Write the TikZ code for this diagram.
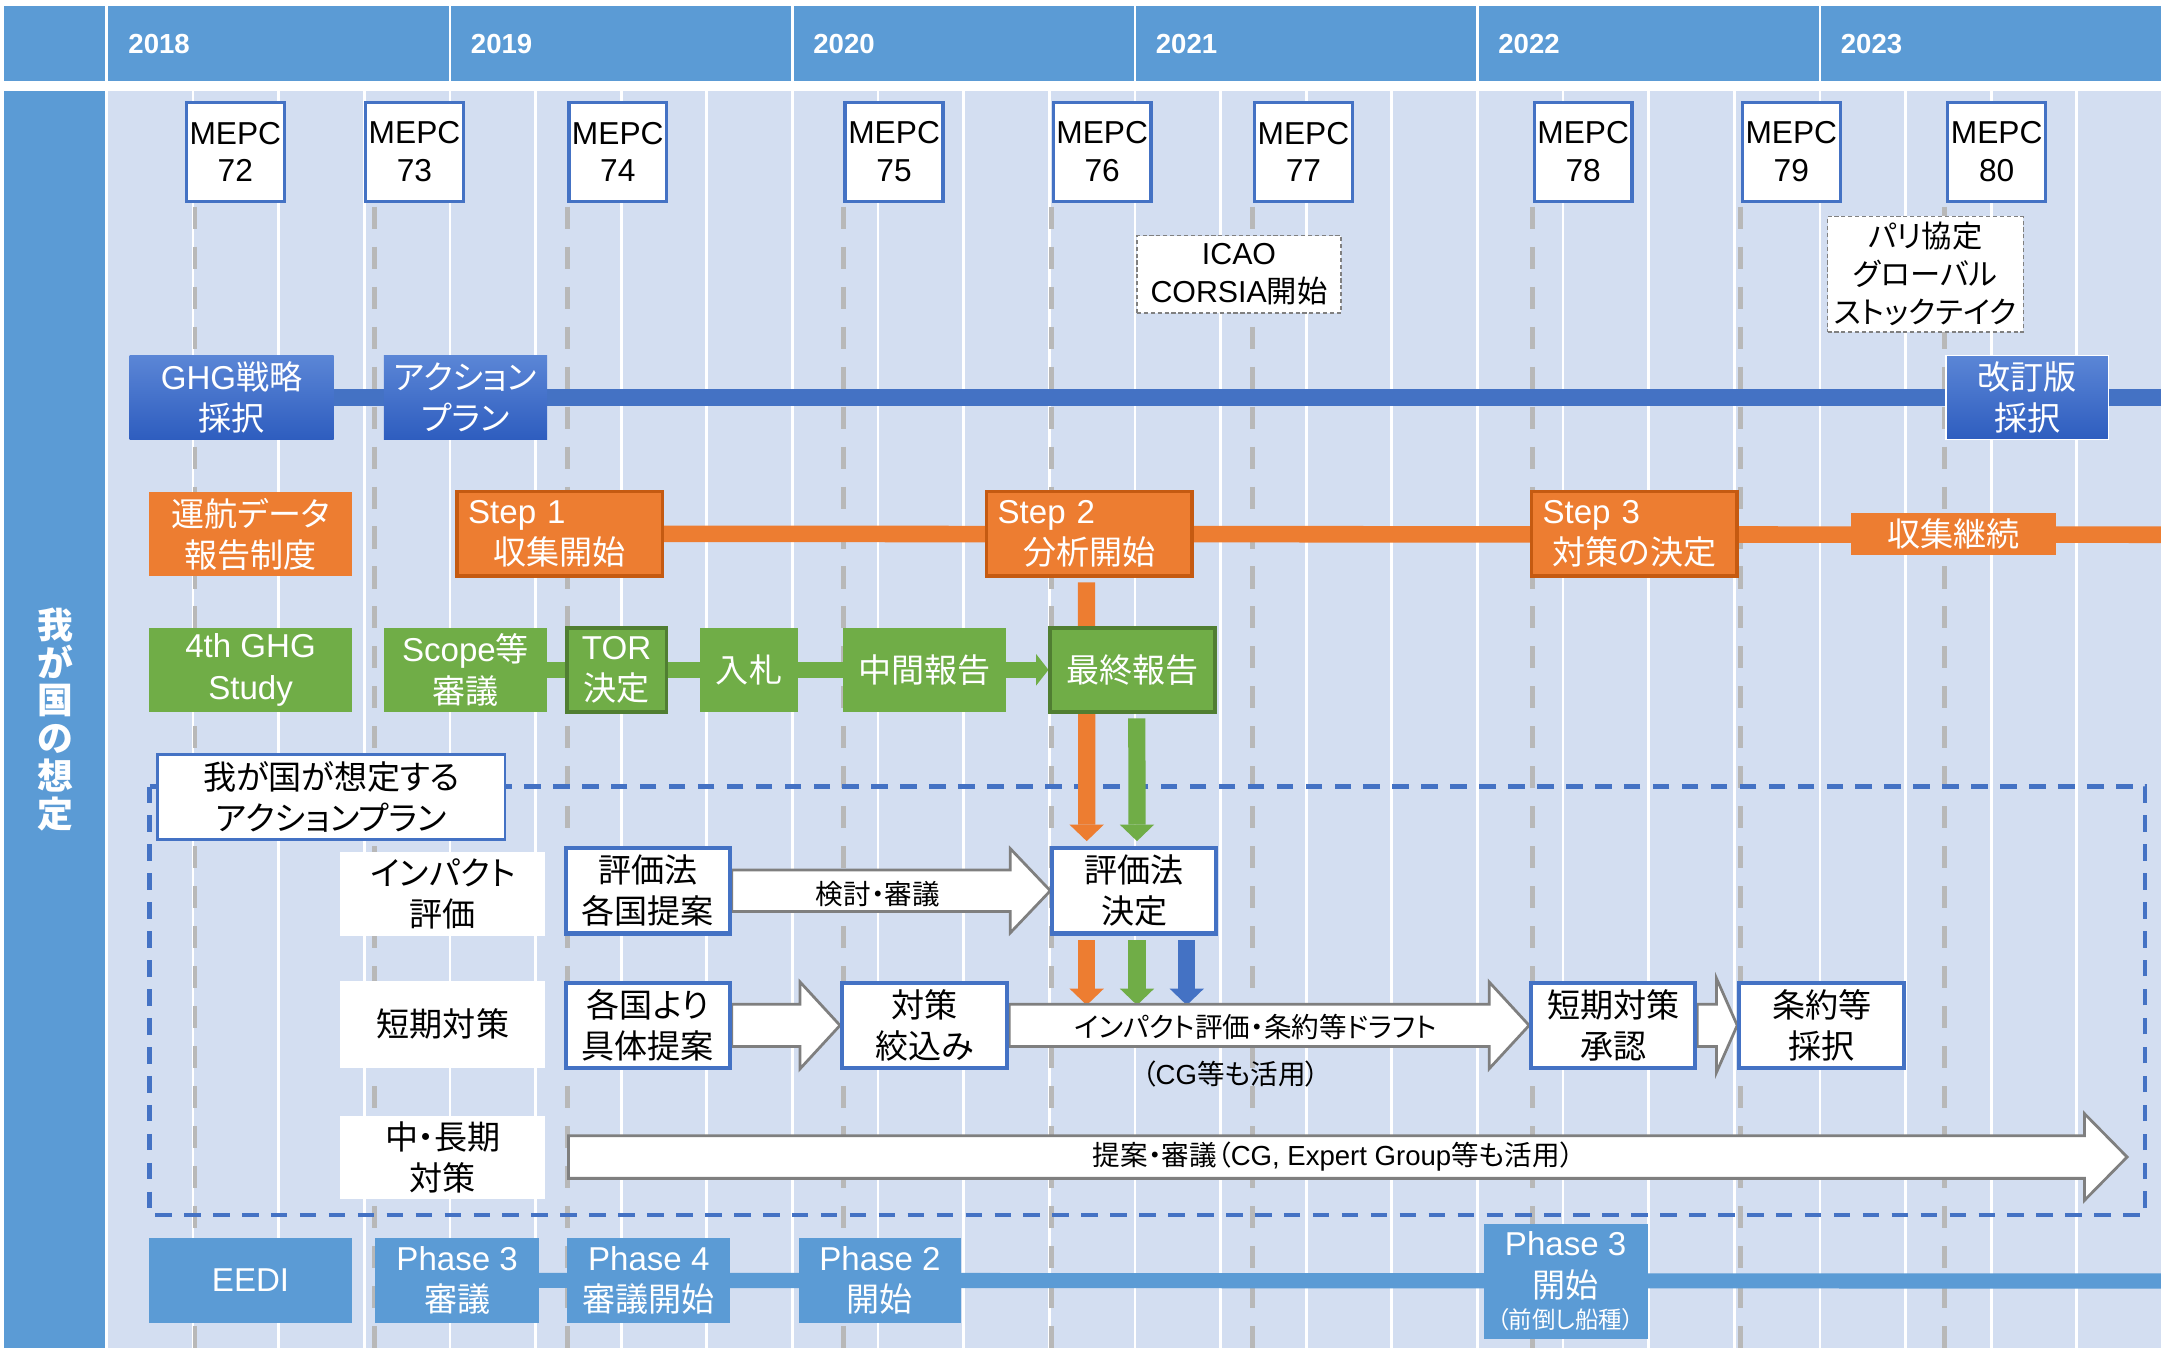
\documentclass[tikz,border=0pt]{standalone}
\usepackage{fontspec}
\setmainfont{Noto Sans CJK JP}[RawFeature=+palt]
\newfontfamily\arial{Liberation Sans}
\usetikzlibrary{calc,arrows.meta}

\definecolor{hdrblue}{HTML}{5B9BD5}
\definecolor{gridbg}{HTML}{D3DEF1}
\definecolor{accblue}{HTML}{4472C4}
\definecolor{gradtop}{HTML}{5B86D6}
\definecolor{gradbot}{HTML}{2E5DBF}
\definecolor{accorange}{HTML}{ED7D31}
\definecolor{darkorange}{HTML}{C55A11}
\definecolor{accgreen}{HTML}{70AD47}
\definecolor{darkgreen}{HTML}{507E32}
\definecolor{dashgrey}{HTML}{B8B8B8}
\definecolor{arrgrey}{HTML}{7F7F7F}

\newcommand{\jsize}{\fontsize{24pt}{30pt}\selectfont}
\newcommand{\ssize}{\fontsize{20pt}{24pt}\selectfont}

\pgfdeclarelayer{grid}
\pgfdeclarelayer{lines}
\pgfsetlayers{grid,lines,main}

\tikzset{
  basebox/.style={minimum height=61pt, inner sep=1pt, align=center, font=\jsize, text=white},
  bluegrad/.style={basebox, top color=gradtop, bottom color=gradbot},
  orangebox/.style={basebox, fill=accorange},
  stepbox/.style={orangebox, draw=darkorange, line width=2.5pt, align=left,
    text width=133pt, minimum width=149pt},
  greenbox/.style={basebox, fill=accgreen},
  greenedge/.style={greenbox, draw=darkgreen, line width=2.5pt},
  eedibox/.style={basebox, fill=hdrblue, minimum height=62pt},
  planbox/.style={basebox, text=black, fill=white, draw=accblue, line width=3pt,
    minimum width=119pt, minimum height=62pt},
  rowlabel/.style={basebox, text=black, fill=white, minimum width=148.7pt},
  notebox/.style={basebox, text=black, fill=white, draw=gray, line width=1pt,
    dash pattern=on 3pt off 2pt, font=\fontsize{22pt}{27.5pt}\selectfont},
  mepc/.style={basebox, text=black, fill=white, draw=accblue, line width=2.5pt,
    minimum width=71pt, minimum height=72pt, anchor=north west,
    font=\arial\fontsize{23pt}{27.5pt}\selectfont},
  yearlabel/.style={anchor=west, inner sep=0pt, text=white,
    font=\arial\bfseries\fontsize{20pt}{24pt}\selectfont},
  bar/.style={line width=12pt},
  downarrow/.style={line width=12.5pt, -{Triangle[width=25pt,length=12pt,line width=0pt]}},
  fatarrow/.style={draw=arrgrey, fill=white, line width=2pt},
  arrtext/.style={font=\ssize, inner sep=0pt},
  gridline/.style={white, line width=2pt},
  mepcline/.style={dashgrey, line width=3.5pt, dash pattern=on 16pt off 13pt},
  planframe/.style={accblue, line width=3pt, dash pattern=on 12pt off 9pt}
}

% white block arrow between two points
\newcommand{\fatarr}[5]{%
  \draw[fatarrow] let \p1=(#1), \p2=(#2) in
    (\x1,\y1+#3) -- (\x2-#5,\y1+#3) -- (\x2-#5,\y1+#4) -- (\x2,\y1)
    -- (\x2-#5,\y1-#4) -- (\x2-#5,\y1-#3) -- (\x1,\y1-#3) -- cycle;}

\begin{document}
\begin{tikzpicture}[x=1pt, y=-1pt]
\useasboundingbox (0,0) rectangle (1568,978);

% background, quarters and MEPC dates
\begin{pgfonlayer}{grid}
\fill[hdrblue] (3,4) rectangle (76,59);
\fill[hdrblue] (78,4) rectangle (1568,59);
\fill[hdrblue] (3,66) rectangle (76,978);
\fill[gridbg] (78,66) rectangle (1568,978);
\foreach \k in {1,...,23}
  \draw[gridline] (78+62.125*\k,66) -- (78+62.125*\k,978);
\foreach \k in {1,...,5}
  \draw[gridline] (78+248.5*\k,4) -- (78+248.5*\k,59);
\foreach \x in {141.5,272,411.5,612,763,909,1112,1263,1411}
  \draw[mepcline] (\x,150) -- (\x,978);
\end{pgfonlayer}

% years
\foreach \yr [count=\i from 0] in {2018,...,2023}
  \node[yearlabel] (y\yr) at (93+248.5*\i,32) {\yr};

\node[text=white, align=center, inner sep=0pt,
  font=\bfseries\fontsize{26pt}{27.5pt}\selectfont] (sotei) at (40,522)
  {我\\が\\国\\の\\想\\定};

% MEPC meetings
\foreach \x/\n in {134/72,264/73,411.5/74,612/75,763/76,909/77,1112/78,1263/79,1412/80}
  \node[mepc] (m\n) at (\x,73) {MEPC\\\n};

% notes
\node[notebox, minimum width=148pt, minimum height=56pt] (icao) at (899,199)
  {{\arial ICAO}\\{\arial CORSIA}開始};
\node[notebox, minimum width=142pt, minimum height=84pt] (paris) at (1397,199)
  {パリ協定\\グローバル\\ストックテイク};

% GHG strategy
\node[bluegrad, minimum width=148pt] (ghg) at (168,288.3) {{\arial GHG}戦略\\採択};
\node[bluegrad, minimum width=118.5pt] (action) at (337.75,288.3) {アクション\\プラン};
\node[bluegrad, draw=white, line width=1pt, minimum width=118pt] (kaitei) at (1471,288.3)
  {改訂版\\採択};
\coordinate (blueend) at (1568,288.3);

% data collection
\node[orangebox, minimum width=147.6pt] (unko) at (181.8,387.5) {運航データ\\報告制度};
\node[stepbox] (step1) at (406.2,387.3)
  {{\arial Step 1}\\\hspace*{\fill}収集開始\hspace*{\fill}\null};
\node[stepbox] (step2) at (790.4,387.3)
  {{\arial Step 2}\\\hspace*{\fill}分析開始\hspace*{\fill}\null};
\node[stepbox] (step3) at (1185.75,387.3)
  {{\arial Step 3}\\\hspace*{\fill}対策の決定\hspace*{\fill}\null};
\node[orangebox, minimum width=149pt, minimum height=31pt] (keizoku) at (1417.5,387.5)
  {収集継続};
\coordinate (orangeend) at (1568,388);

% 4th GHG study
\node[greenbox, minimum width=147.6pt, font=\arial\jsize] (study) at (181.8,486)
  {4th GHG\\Study};
\node[greenbox, minimum width=118.5pt] (scope) at (337.75,486) {{\arial Scope}等\\審議};
\node[greenedge, minimum width=72pt] (tor) at (447.4,486) {{\arial TOR}\\決定};
\node[greenbox, minimum width=71pt] (nyusatsu) at (543.5,486) {入札};
\node[greenbox, minimum width=118pt] (chukan) at (671,486) {中間報告};
\node[greenedge, minimum width=119.7pt] (saishu) at (821.85,486) {最終報告};

% action plan
\node[planbox, line width=2pt, minimum width=252pt] (planlabel) at (240.5,578.2)
  {我が国が想定する\\アクションプラン};
\node[rowlabel] (impact) at (321.4,648.5) {インパクト\\評価};
\node[rowlabel, minimum height=62.6pt] (tanki) at (321.4,743.3) {短期対策};
\node[rowlabel, minimum height=60pt] (choki) at (321.4,839.9) {中・長期\\対策};

\node[planbox] (hyoka) at (470,646.3) {評価法\\各国提案};
\node[planbox] (kettei) at (823.1,646.3) {評価法\\決定};
\node[planbox] (kakkoku) at (470,744) {各国より\\具体提案};
\node[planbox, minimum width=119.8pt] (taisaku) at (670.9,744) {対策\\絞込み};
\node[planbox] (shonin) at (1170.5,744) {短期対策\\承認};
\node[planbox, minimum width=119.6pt] (joyaku) at (1321.8,744) {条約等\\採択};
\coordinate (chostart) at (412.5,839.5);
\coordinate (choend) at (1543.4,839.5);

% EEDI
\node[eedibox, minimum width=147.6pt, font=\arial\jsize] (eedi) at (181.8,929) {EEDI};
\node[eedibox, minimum width=118.6pt] (ph3a) at (331.7,929) {{\arial Phase 3}\\審議};
\node[eedibox, minimum width=118.5pt] (ph4) at (470.75,929) {{\arial Phase 4}\\審議開始};
\node[eedibox, minimum width=118pt] (ph2) at (638.5,929) {{\arial Phase 2}\\開始};
\node[eedibox, minimum width=119pt, minimum height=83.6pt] (ph3b) at (1136,929.8)
  {{\arial Phase 3}\\開始\\[-7pt]{\fontsize{17pt}{20pt}\selectfont （前倒し船種）}};
\coordinate (eediend) at (1568,929.5);

% connectors
\begin{pgfonlayer}{lines}
\draw[bar, accblue] (ghg) -- (blueend);
\draw[bar, accorange] (step1) -- (orangeend);
\draw[bar, accgreen] (scope) -- (tor) -- (nyusatsu) -- (chukan);
\draw[bar, accgreen, -{Triangle[width=23pt,length=9pt,line width=0pt]}] (chukan) -- (saishu);
\draw[bar, hdrblue, line width=11pt] (ph3a) -- (eediend);

\draw[planframe] (108.5,570.7) rectangle (1556.5,881.6);

\draw[downarrow, accorange] ([xshift=-2pt,yshift=-3.5pt]step2.south)
  -- ([xshift=-34.6pt,yshift=3.5pt]kettei.north);
\draw[downarrow, accgreen] ([xshift=3pt,yshift=-3.5pt]saishu.south)
  -- ([xshift=1.9pt,yshift=3.5pt]kettei.north);
\draw[downarrow, accorange] ([xshift=-34.6pt,yshift=-3.5pt]kettei.south) -- ++(0,47);
\draw[downarrow, accgreen] ([xshift=1.9pt,yshift=-3.5pt]kettei.south) -- ++(0,47);
\draw[downarrow, accblue] ([xshift=38pt,yshift=-3.5pt]kettei.south) -- ++(0,47);

\fatarr{hyoka.east}{kettei.west}{15pt}{30.5pt}{29pt}
\fatarr{kakkoku.east}{taisaku.west}{15.3pt}{31.5pt}{29pt}
\fatarr{taisaku.east}{shonin.west}{15.3pt}{31.5pt}{29pt}
\fatarr{shonin.east}{joyaku.west}{15.3pt}{34pt}{15pt}
\fatarr{chostart}{choend}{15.5pt}{31.5pt}{31pt}
\end{pgfonlayer}

% arrow texts
\node[arrtext] (kento) at (637,649) {検討・審議};
\node[arrtext] (draft) at (911,745) {インパクト評価・条約等ドラフト};
\node[arrtext] (cg) at (893,779) {（{\arial CG}等も活用）};
\node[arrtext] (teian) at (967.5,839) {提案・審議（{\arial CG, Expert Group}等も活用）};

\end{tikzpicture}
\end{document}
